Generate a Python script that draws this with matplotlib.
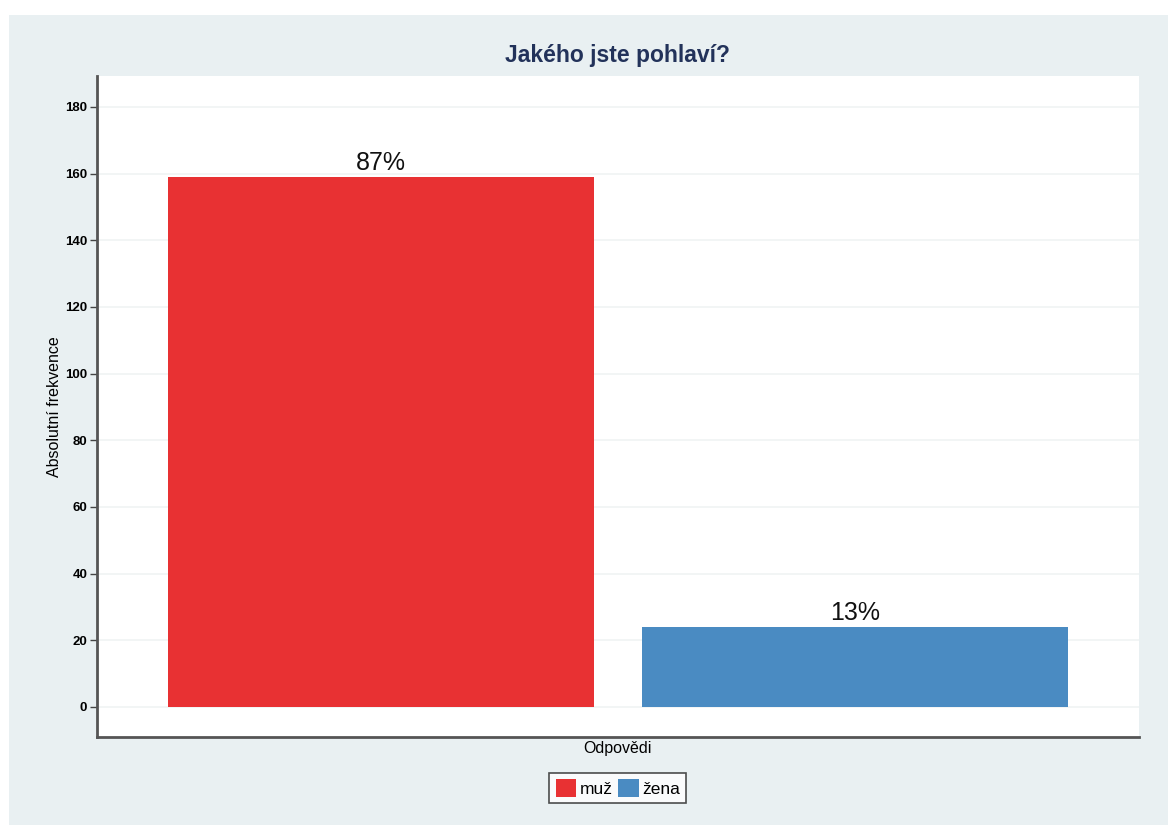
import numpy as np
import matplotlib.pyplot as plt
from matplotlib.patches import Rectangle

plt.rcParams['font.family'] = ['Liberation Sans', 'DejaVu Sans']

# Données de la question
odpovedi = ["muž", "žena"]
pocty = [159, 24]
barvy = ["#e83133", "#4a8bc2"]
titulek = "Jakého jste pohlaví?"

procenta = [100 * p / sum(pocty) for p in pocty]

fig = plt.figure(figsize=(11.68, 8.25), dpi=100)
fig.patch.set_facecolor("white")
# fond gris-bleu autour du graphique
fig.patches.append(Rectangle((9 / 1168, 0), 1 - 9 / 1168, 1 - 15 / 825,
                             transform=fig.transFigure, facecolor="#e9f0f2",
                             edgecolor="none", zorder=-10))

ax = fig.add_axes([0.0830, 0.1067, 0.8922, 0.8012])
ax.set_facecolor("white")

pozice = np.arange(len(odpovedi))
sloupce = ax.bar(pozice, pocty, width=0.9, color=barvy, label=odpovedi, zorder=2)

for x, p, pct in zip(pozice, pocty, procenta):
    ax.text(x, p + 0.5, f"{pct:.0f}%", ha="center", va="bottom", fontsize=18,
            color="#111111")

ax.set_xlim(-0.6, 1.6)
ax.set_ylim(-9, 189.3)
ax.set_yticks(np.arange(0, 181, 20))
ax.set_xticks([])
ax.yaxis.grid(True, color="#f0f4f4", linewidth=1.2, zorder=0)
ax.set_axisbelow(True)

for t in ax.get_yticklabels():
    t.set_fontweight("bold")
ax.tick_params(axis="y", direction="out", length=5, width=1, color="#444444",
               labelsize=9.5, pad=2)

for s in ["top", "right"]:
    ax.spines[s].set_visible(False)
for s in ["left", "bottom"]:
    ax.spines[s].set_color("#555555")
    ax.spines[s].set_linewidth(2)

ax.set_ylabel("Absolutní frekvence", fontsize=11.5, labelpad=2)

fig.text(0.5290, 0.9333, titulek, ha="center", va="center", fontsize=16.5,
         fontweight="bold", color="#22325a")
fig.text(0.5290, 0.0933, "Odpovědi", ha="center", va="center", fontsize=11.5)

leg = fig.legend(sloupce, odpovedi, loc="center", bbox_to_anchor=(0.5290, 0.0448),
                 ncol=2, frameon=True, fancybox=False, fontsize=12.5,
                 handlelength=1.2, handleheight=1.2, handletextpad=0.2,
                 columnspacing=0.3, borderpad=0.35, borderaxespad=0)
leg.get_frame().set_edgecolor("#222222")
leg.get_frame().set_linewidth(1.2)

fig.savefig("out.png", dpi=100, facecolor=fig.get_facecolor())
